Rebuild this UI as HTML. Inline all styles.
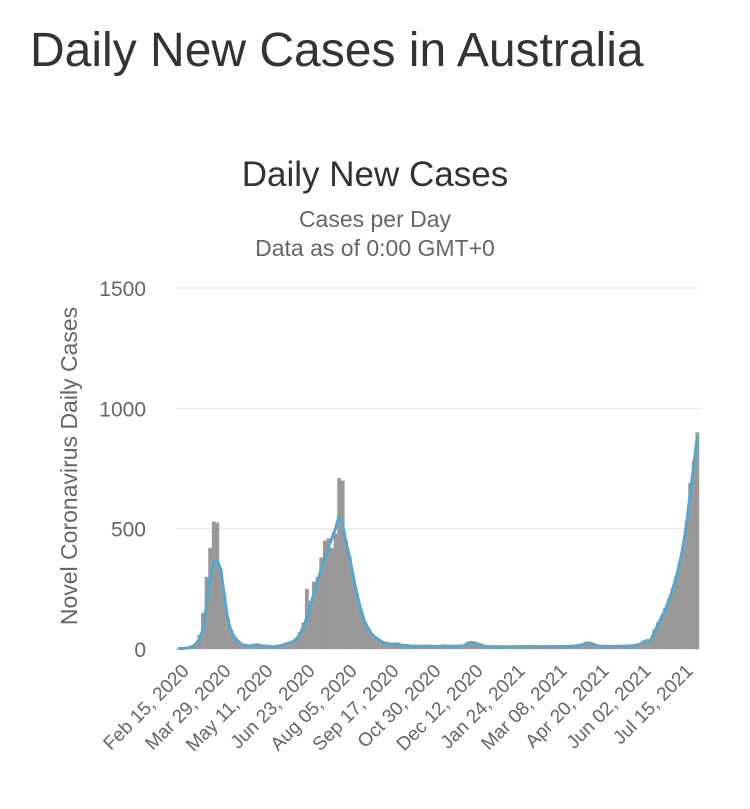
<!DOCTYPE html>
<html><head><meta charset="utf-8">
<style>
body{margin:0;background:#fff;width:750px;height:804px;overflow:hidden;font-family:"Liberation Sans",sans-serif;}
</style></head>
<body>
<svg id="chart" width="750" height="804" xmlns="http://www.w3.org/2000/svg">
<text x="30" y="66" font-size="48" fill="#333">Daily New Cases in Australia</text>
<text x="375" y="186" font-size="35" fill="#333" text-anchor="middle">Daily New Cases</text>
<text x="375" y="227" font-size="23" fill="#666" text-anchor="middle">Cases per Day</text>
<text x="375" y="256" font-size="23" fill="#666" text-anchor="middle">Data as of 0:00 GMT+0</text>
<text transform="translate(77,466) rotate(-90)" font-size="23" fill="#666" text-anchor="middle">Novel Coronavirus Daily Cases</text>
<g id="grid"></g><g id="bars"></g><g id="line"></g><g id="xlabels"></g>
</svg>
<script>
const yTicks=[0,500,1000,1500];
const xLabels=["Feb 15, 2020","Mar 29, 2020","May 11, 2020","Jun 23, 2020","Aug 05, 2020","Sep 17, 2020","Oct 30, 2020","Dec 12, 2020","Jan 24, 2021","Mar 08, 2021","Apr 20, 2021","Jun 02, 2021","Jul 15, 2021"];
const dailyCases=[1,2,3,4,10,25,60,150,300,420,530,525,330,230,130,80,50,30,20,15,12,18,22,16,12,13,10,11,14,18,22,28,32,45,70,110,250,200,280,300,380,450,460,420,480,710,700,450,380,300,230,170,120,85,60,45,38,28,24,20,22,25,18,16,14,12,11,12,10,12,13,11,10,12,14,12,11,12,13,12,14,28,30,26,20,14,10,9,8,9,10,9,8,8,9,10,9,10,12,11,10,9,8,10,11,12,10,9,10,11,12,14,16,20,28,30,22,14,12,11,10,12,11,10,12,13,14,15,18,24,35,40,38,80,110,140,170,210,250,300,360,430,530,690,780,900];
const avgCases=[2,2,3,5,10,20,40,80,180,300,360,370,330,220,120,70,45,30,18,15,12,15,18,15,12,12,10,10,12,15,20,25,30,40,60,90,130,180,230,280,330,380,420,460,500,550,520,440,380,300,230,170,120,90,65,50,40,30,25,22,20,22,18,15,15,12,12,12,11,12,12,11,11,12,13,12,12,12,12,13,14,25,28,25,20,15,11,10,9,9,10,9,9,9,9,10,10,10,11,11,10,10,9,10,11,11,10,10,10,11,12,13,15,18,25,25,20,14,12,11,11,11,11,11,12,12,13,14,16,20,30,35,35,70,100,130,160,200,240,290,350,420,520,640,760,880];
const X0=176,X1=699,Y0=649,YTOP=288;
const n=dailyCases.length;
const xs=i=>X0+(i+0.5)*(X1-X0)/n;
const ys=v=>Y0-(v/1500)*(Y0-YTOP);
const NS="http://www.w3.org/2000/svg";
function mk(tag,attrs,parent){const e=document.createElementNS(NS,tag);for(const k in attrs)e.setAttribute(k,attrs[k]);document.getElementById(parent).appendChild(e);return e;}
yTicks.forEach(t=>{
  const l=mk("line",{x1:X0,x2:X1,y1:ys(t),y2:ys(t),stroke:t===0?"#ccd6eb":"#e6e6e6","stroke-width":1},"grid");
  
  
  const tx=mk("text",{x:146,y:ys(t)+8,"font-size":21,fill:"#666","text-anchor":"end"},"grid");
  tx.textContent=t;
  
  
});
const bw=(X1-X0)/n;
dailyCases.forEach((v,i)=>{
  const r=mk("rect",{x:X0+i*bw,y:ys(v),width:bw+0.2,height:Y0-ys(v),fill:"#999"},"bars");
  
  
});
const p=mk("path",{d:avgCases.map((v,i)=>(i?"L":"M")+xs(i).toFixed(1)+","+ys(v).toFixed(1)).join(""),fill:"none",stroke:"#5aa6c8","stroke-width":3,"stroke-linejoin":"round"},"line");


const pxPerLabel=(652-190)/11;
xLabels.forEach((s,k)=>{
  const x=190+k*pxPerLabel;
  const t=mk("text",{transform:`translate(${x},672) rotate(-45)`,"font-size":19,fill:"#666","text-anchor":"end"},"xlabels");
  t.textContent=s;
  
  
});
</script>
</body></html>
